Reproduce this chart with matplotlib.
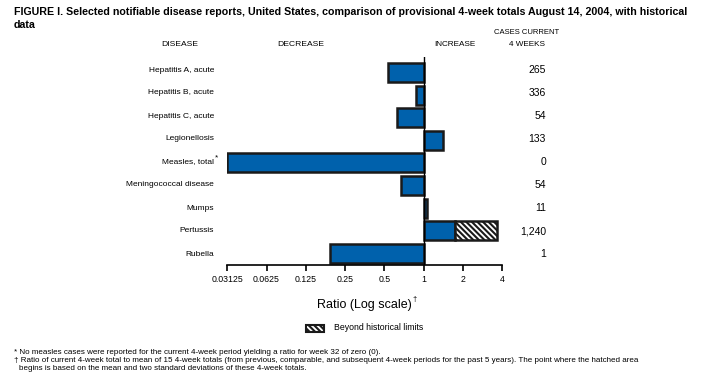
import matplotlib
matplotlib.use("Agg")
import matplotlib.pyplot as plt
from matplotlib.patches import Rectangle
import numpy as np

plt.rcParams['font.family'] = ['Liberation Sans', 'DejaVu Sans']
plt.rcParams['hatch.linewidth'] = 1.5

diseases = ["Hepatitis A, acute", "Hepatitis B, acute", "Hepatitis C, acute",
            "Legionellosis", "Measles, total", "Meningococcal disease",
            "Mumps", "Pertussis", "Rubella"]
ratios = [0.533, 0.88, 0.63, 1.42, 0.03125, 0.666, 1.07, 1.73, 0.193]
beyond_limits = [None, None, None, None, None, None, None, 3.66, None]
cases = ["265", "336", "54", "133", "0", "54", "11", "1,240", "1"]
tick_vals = [0.03125, 0.0625, 0.125, 0.25, 0.5, 1, 2, 4]
tick_labels = ["0.03125", "0.0625", "0.125", "0.25", "0.5", "1", "2", "4"]

W, H = 701, 382
fig = plt.figure(figsize=(W / 100, H / 100), dpi=100)
ax_left, ax_right = 227.3 / W, 502 / W
ax_top, ax_bot = 1 - 57 / H, 1 - 265.3 / H
ax = fig.add_axes([ax_left, ax_bot, ax_right - ax_left, ax_top - ax_bot])

blue = "#0061AC"
edge = "#1a1a1a"
hatch = "\\\\\\\\\\\\"
ypos = np.arange(len(diseases))
for y, r, b in zip(ypos, ratios, beyond_limits):
    lo, hi = min(r, 1), max(r, 1)
    ax.barh(y, hi - lo, left=lo, height=0.84, color=blue, edgecolor=edge, linewidth=1.8, zorder=2)
    if b is not None:
        ax.barh(y, b - r, left=r, height=0.84, color="white", edgecolor=edge,
                hatch=hatch, linewidth=1.8, zorder=2)

ax.set_xscale("log", base=2)
ax.set_xlim(0.03125, 4)
ax.set_ylim(8.52, -0.68)
ax.axvline(1, color="black", linewidth=1.0, zorder=3)
for s in ["top", "right", "left"]:
    ax.spines[s].set_visible(False)
ax.spines["bottom"].set_linewidth(1.2)
ax.set_yticks([])
ax.set_xticks(tick_vals)
ax.set_xticklabels(tick_labels, fontsize=6.3)
ax.xaxis.set_minor_locator(matplotlib.ticker.NullLocator())
ax.tick_params(axis="x", length=4, width=1.2, pad=3)

# disease labels and case counts (text rows slightly offset from bar centres)
for i, (d, c) in enumerate(zip(diseases, cases)):
    yfig = 1 - (70 + 23 * i) / H
    fig.text(214 / W, yfig, d, ha="right", va="center", fontsize=6.0)
    fig.text(546 / W, yfig, c, ha="right", va="center", fontsize=7.5)
    if d.startswith("Measles"):
        fig.text(214.5 / W, yfig + 4 / H, "*", ha="left", va="center", fontsize=6)

# title
fig.text(14 / W, 1 - 12 / H, "FIGURE I. Selected notifiable disease reports, United States, comparison of provisional 4-week totals August 14, 2004, with historical",
         ha="left", va="center", fontsize=7.63, fontweight="bold")
fig.text(14 / W, 1 - 25 / H, "data", ha="left", va="center", fontsize=7.63, fontweight="bold")

# headers
fig.text(180 / W, 1 - 45 / H, "DISEASE", ha="center", va="center", fontsize=6.1)
fig.text(301 / W, 1 - 45 / H, "DECREASE", ha="center", va="center", fontsize=6.1)
fig.text(455 / W, 1 - 45 / H, "INCREASE", ha="center", va="center", fontsize=5.9)
fig.text(527 / W, 1 - 32 / H, "CASES CURRENT", ha="center", va="center", fontsize=5.5)
fig.text(527 / W, 1 - 44 / H, "4 WEEKS", ha="center", va="center", fontsize=5.9)

# x label
fig.text(364 / W, 1 - 305 / H, "Ratio (Log scale)", ha="center", va="center", fontsize=9)
fig.text(412 / W, 1 - 300 / H, "\u2020", ha="left", va="center", fontsize=5.5)

# legend
lg = Rectangle((306 / W, 1 - 332 / H), 18 / W, 7.5 / H, transform=fig.transFigure,
               facecolor="white", edgecolor=edge, hatch=hatch, linewidth=1.5)
fig.patches.append(lg)
fig.text(334 / W, 1 - 328 / H, "Beyond historical limits", ha="left", va="center", fontsize=6.3)

# footnotes
fs = 5.8
fig.text(14 / W, 1 - 352 / H, "* No measles cases were reported for the current 4-week period yielding a ratio for week 32 of zero (0).",
         ha="left", va="center", fontsize=fs)
fig.text(14 / W, 1 - 360 / H, "\u2020 Ratio of current 4-week total to mean of 15 4-week totals (from previous, comparable, and subsequent 4-week periods for the past 5 years). The point where the hatched area",
         ha="left", va="center", fontsize=fs)
fig.text(19 / W, 1 - 368.5 / H, "begins is based on the mean and two standard deviations of these 4-week totals.",
         ha="left", va="center", fontsize=fs)

fig.savefig("out.png", dpi=100)
